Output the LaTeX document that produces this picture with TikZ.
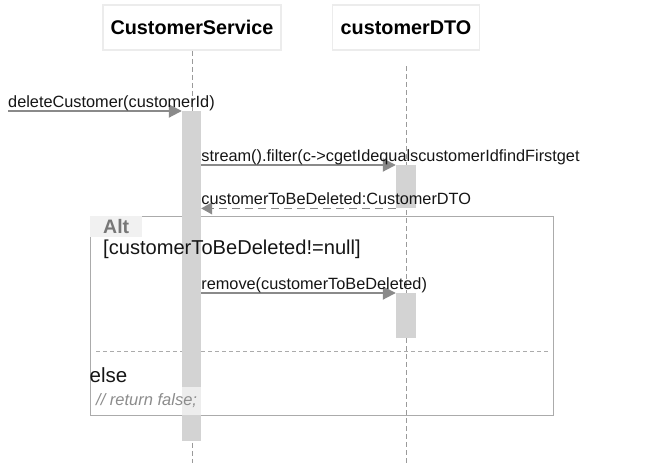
\documentclass[tikz,border=0pt]{standalone}
\usepackage{fontspec}
\setmainfont{Liberation Sans}
\usetikzlibrary{arrows.meta, positioning, calc}
\definecolor{msgline}{HTML}{8A8A8A}
\definecolor{lifegrey}{HTML}{9A9A9A}
\definecolor{actfill}{HTML}{D3D3D3}
\definecolor{frameedge}{HTML}{ABABAB}
\definecolor{altfill}{HTML}{F1F1F1}
\definecolor{headedge}{HTML}{ECECEC}
\definecolor{inktext}{HTML}{151515}
\definecolor{notegrey}{HTML}{8C8C8C}

\begin{document}
\begin{tikzpicture}[
  x=1pt, y=-1pt,
  font=\fontsize{16.3}{19}\selectfont, text=inktext,
  head/.style={
    draw=headedge, line width=1.5pt, fill=white, inner sep=0pt,
    font=\fontsize{19.8}{22}\selectfont\bfseries, text=black,
    minimum height=45pt
  },
  actbar/.style={fill=actfill, draw=none, inner sep=0pt, minimum width=20pt},
  msg/.style={msgline, line width=2pt, -{Triangle[length=13pt, width=13pt]}},
  ret/.style={msgline, line width=1.4pt, dash pattern=on 8pt off 5pt,
    -{Triangle[length=11pt, width=12pt]}},
  life/.style={lifegrey, line width=0.7pt, dash pattern=on 5pt off 3pt},
  lbl/.style={anchor=base west, inner sep=0pt}
]
  \useasboundingbox (0,0) rectangle (661,463);

  % participants and lifelines
  \node[head, minimum width=178pt] (cs) at (192,27.5) {CustomerService};
  \node[head, minimum width=147pt] (dto) at (406,27.5) {customerDTO};
  \coordinate (csEnd) at (192,463);
  \coordinate (dtoTop) at (406,66);
  \coordinate (dtoEnd) at (406,463);
  \draw[life] (cs.south) -- (csEnd);
  \draw[life] (dtoTop) -- (dtoEnd);

  % alt fragment
  \node[draw=frameedge, line width=1.2pt, anchor=north west,
        minimum width=463pt, minimum height=199pt, inner sep=0pt] (altFrame) at (90,216) {};
  \node[fill=altfill, anchor=north west, inner xsep=13pt, inner ysep=0pt,
        minimum height=21pt, text=notegrey!85!black,
        font=\fontsize{19.5}{22}\selectfont\bfseries] (altTag) at (altFrame.north west) {Alt};
  \coordinate (sepL) at (96,351);
  \coordinate (sepR) at (550,351);
  \draw[frameedge, line width=0.9pt, dash pattern=on 4pt off 3pt] (sepL) -- (sepR);

  % activations
  \node[actbar, minimum width=19pt, minimum height=330pt, anchor=north] (csAct) at (191.5,111) {};
  \node[actbar, minimum height=43pt, anchor=north] (dtoAct1) at (406,165) {};
  \node[actbar, minimum height=45pt, anchor=north] (dtoAct2) at (406,293) {};

  \node[anchor=west, inner sep=0pt, font=\fontsize{20.1}{23}\selectfont] (guard) at (103,249)
    {[customerToBeDeleted!=null]};
  \node[anchor=west, inner sep=0pt, font=\fontsize{20.5}{23}\selectfont] (elseTag) at (89.5,375) {else};
  \node[anchor=west, fill=white, fill opacity=0.6, text opacity=1, text=notegrey,
        inner xsep=5pt, minimum height=28pt, font=\fontsize{16.5}{19}\selectfont\itshape]
        (retNote) at (91,401) {// return false;};

  % messages
  \coordinate (caller) at (8,111);
  \draw[msg] (caller) -- (csAct.north west);
  \node[lbl] at ([yshift=4pt]caller) {deleteCustomer(customerId)};

  \coordinate (m2) at (csAct.east |- dtoAct1.north);
  \draw[msg] (m2) -- (dtoAct1.north west);
  \node[lbl] at ([yshift=4pt]m2) {stream().filter(c->cgetIdequalscustomerIdfindFirstget};

  \coordinate (m3) at (csAct.east |- dtoAct1.south);
  \draw[ret] (dtoAct1.south west) -- (m3);
  \node[lbl] at ([yshift=4pt]m3) {customerToBeDeleted:CustomerDTO};

  \coordinate (m4) at (csAct.east |- dtoAct2.north);
  \draw[msg] (m4) -- (dtoAct2.north west);
  \node[lbl] at ([yshift=4pt]m4) {remove(customerToBeDeleted)};
\end{tikzpicture}
\end{document}
